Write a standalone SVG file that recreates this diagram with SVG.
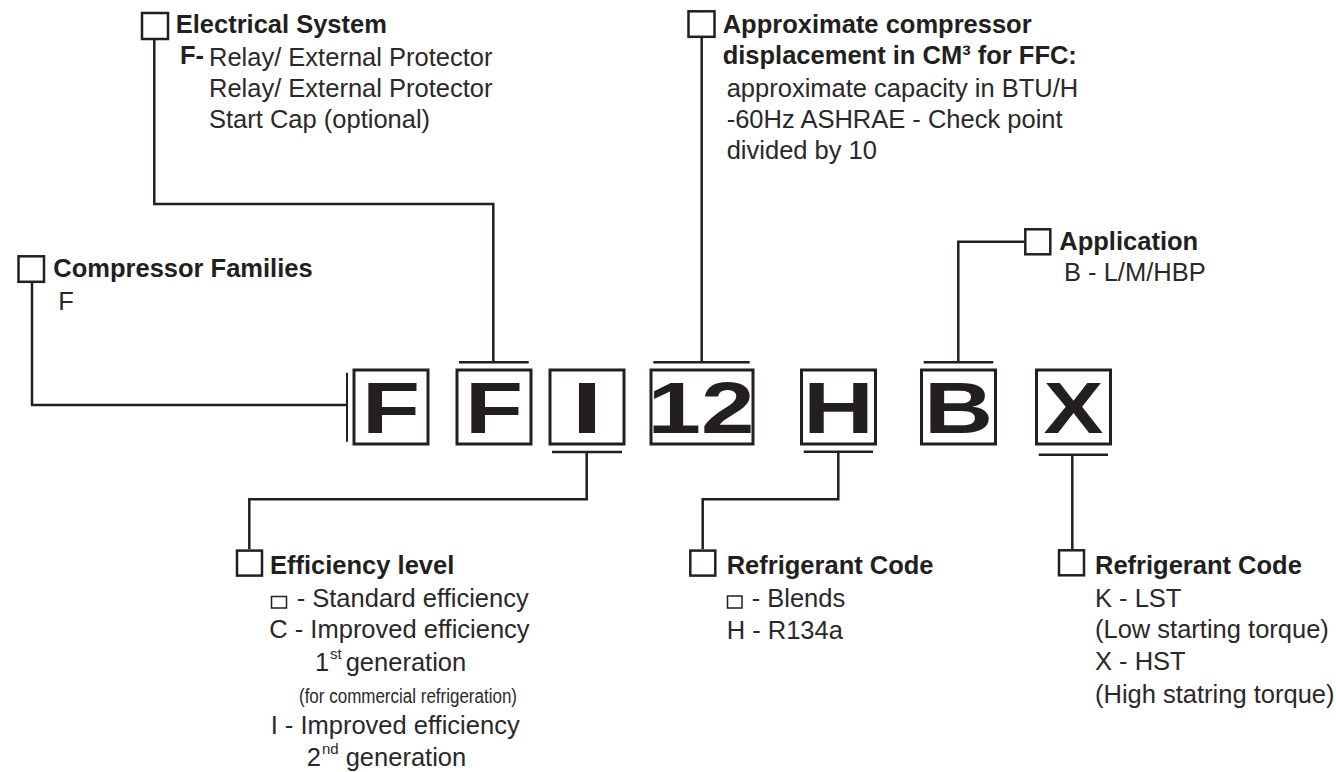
<svg xmlns="http://www.w3.org/2000/svg" width="1336" height="772" viewBox="0 0 1336 772">
<style>
  text { font-family: "Liberation Sans", Arial, sans-serif; fill: #231f20; }
  .t { font-size: 25.5px; font-weight: bold; }
  .b { font-size: 25.5px; fill: #2b2829; }
  .sup { font-size: 15px; fill: #2b2829; }
  .small { font-size: 20px; fill: #2b2829; }
  .big { font-size: 72px; font-weight: bold; text-anchor: middle; }
  .lbox { fill: none; stroke: #231f20; stroke-width: 2.5; }
  .cbox { fill: none; stroke: #231f20; stroke-width: 3; }
  .mini { fill: none; stroke: #231f20; stroke-width: 1.5; }
  .conn { fill: none; stroke: #231f20; stroke-width: 2.5; }
</style>
<rect width="1336" height="772" fill="#ffffff"/>

<g id="connectors">
  <path class="conn" d="M32 282.7 V405 H347"/>
  <path class="conn" d="M347 372.7 V441.7" style="stroke-width:2"/>
  <path class="conn" d="M154.3 40 V204 H493.3 V362.3"/>
  <path class="conn" d="M459 362.3 H528.7"/>
  <path class="conn" d="M701.7 37.7 V362.3"/>
  <path class="conn" d="M653.3 362.3 H749.7"/>
  <path class="conn" d="M958.3 362.3 V241.7 H1024"/>
  <path class="conn" d="M923.7 362.3 H993.3"/>
  <path class="conn" d="M552 452 H622"/>
  <path class="conn" d="M586.7 452 V499.3 H249.3 V549.3"/>
  <path class="conn" d="M803.7 451.7 H873"/>
  <path class="conn" d="M838.3 451.7 V499.3 H702.7 V549.3"/>
  <path class="conn" d="M1038.7 454.7 H1108"/>
  <path class="conn" d="M1072.3 454.7 V549"/>
</g>

<g id="code-F1">
  <rect class="cbox" x="354" y="370" width="74" height="74"/>
  <text class="big" x="391" y="433" textLength="58" lengthAdjust="spacingAndGlyphs">F</text>
</g>
<g id="code-F2">
  <rect class="cbox" x="457" y="370" width="74" height="74"/>
  <text class="big" x="494" y="433" textLength="58" lengthAdjust="spacingAndGlyphs">F</text>
</g>
<g id="code-I">
  <rect class="cbox" x="550" y="370" width="74" height="74"/>
  <text class="big" x="587" y="433" textLength="31" lengthAdjust="spacingAndGlyphs">I</text>
</g>
<g id="code-12">
  <rect class="cbox" x="651" y="370" width="102" height="74"/>
  <text class="big" x="701" y="433" textLength="107" lengthAdjust="spacingAndGlyphs">12</text>
</g>
<g id="code-H">
  <rect class="cbox" x="801.5" y="370" width="74" height="74"/>
  <text class="big" x="838.5" y="433" textLength="71" lengthAdjust="spacingAndGlyphs">H</text>
</g>
<g id="code-B">
  <rect class="cbox" x="921.5" y="370" width="74" height="74"/>
  <text class="big" x="958.5" y="433" textLength="69" lengthAdjust="spacingAndGlyphs">B</text>
</g>
<g id="code-X">
  <rect class="cbox" x="1036.5" y="370" width="74" height="74"/>
  <text class="big" x="1073.5" y="433" textLength="60" lengthAdjust="spacingAndGlyphs">X</text>
</g>

<g id="compressor-families">
  <rect class="lbox" x="18.5" y="256.3" width="25.5" height="25.5"/>
  <text class="t" x="53.3" y="276.7">Compressor Families</text>
  <text class="b" x="58.3" y="310">F</text>
</g>

<g id="electrical-system">
  <rect class="lbox" x="142" y="13" width="26" height="26"/>
  <text class="t" x="175.7" y="33.3">Electrical System</text>
  <text class="t" x="180" y="63.5">F-</text>
  <text class="b" x="209" y="66">Relay/ External Protector</text>
  <text class="b" x="209" y="97">Relay/ External Protector</text>
  <text class="b" x="209" y="128">Start Cap (optional)</text>
</g>

<g id="displacement">
  <rect class="lbox" x="688.5" y="11.3" width="26" height="25.5"/>
  <text class="t" x="722.7" y="33.3">Approximate compressor</text>
  <text class="t" x="722.7" y="64">displacement in CM³ for FFC:</text>
  <text class="b" x="726.7" y="96.7">approximate capacity in BTU/H</text>
  <text class="b" x="726.7" y="128.3">-60Hz ASHRAE - Check point</text>
  <text class="b" x="726.7" y="159.3">divided by 10</text>
</g>

<g id="application">
  <rect class="lbox" x="1025.3" y="229.3" width="25" height="25"/>
  <text class="t" x="1059.3" y="250">Application</text>
  <text class="b" x="1064" y="281">B - L/M/HBP</text>
</g>

<g id="efficiency-level">
  <rect class="lbox" x="237" y="550.6" width="25" height="25"/>
  <text class="t" x="270" y="574.3">Efficiency level</text>
  <rect class="mini" x="271.5" y="596.5" width="15" height="11.5"/>
  <text class="b" x="296.7" y="606.7">- Standard efficiency</text>
  <text class="b" x="269.3" y="638.3">C - Improved efficiency</text>
  <text class="b" x="315" y="670.7">1</text>
  <text class="sup" x="330" y="659">st</text>
  <text class="b" x="345.7" y="670.7">generation</text>
  <text class="small" x="299" y="702.7" textLength="218" lengthAdjust="spacingAndGlyphs">(for commercial refrigeration)</text>
  <text class="b" x="270.7" y="734">I - Improved efficiency</text>
  <text class="b" x="306.7" y="766">2</text>
  <text class="sup" x="322" y="754">nd</text>
  <text class="b" x="345.7" y="766">generation</text>
</g>

<g id="refrigerant-code-1">
  <rect class="lbox" x="690.3" y="550.6" width="25" height="25"/>
  <text class="t" x="726.7" y="574.3">Refrigerant Code</text>
  <rect class="mini" x="727.5" y="596" width="14.5" height="12"/>
  <text class="b" x="751.7" y="606.7">- Blends</text>
  <text class="b" x="726.7" y="639">H - R134a</text>
</g>

<g id="refrigerant-code-2">
  <rect class="lbox" x="1059" y="550.3" width="25" height="25"/>
  <text class="t" x="1095" y="574.3">Refrigerant Code</text>
  <text class="b" x="1095" y="606.7">K - LST</text>
  <text class="b" x="1095" y="638.3">(Low starting torque)</text>
  <text class="b" x="1095" y="670">X - HST</text>
  <text class="b" x="1095" y="702.7">(High statring torque)</text>
</g>
</svg>
